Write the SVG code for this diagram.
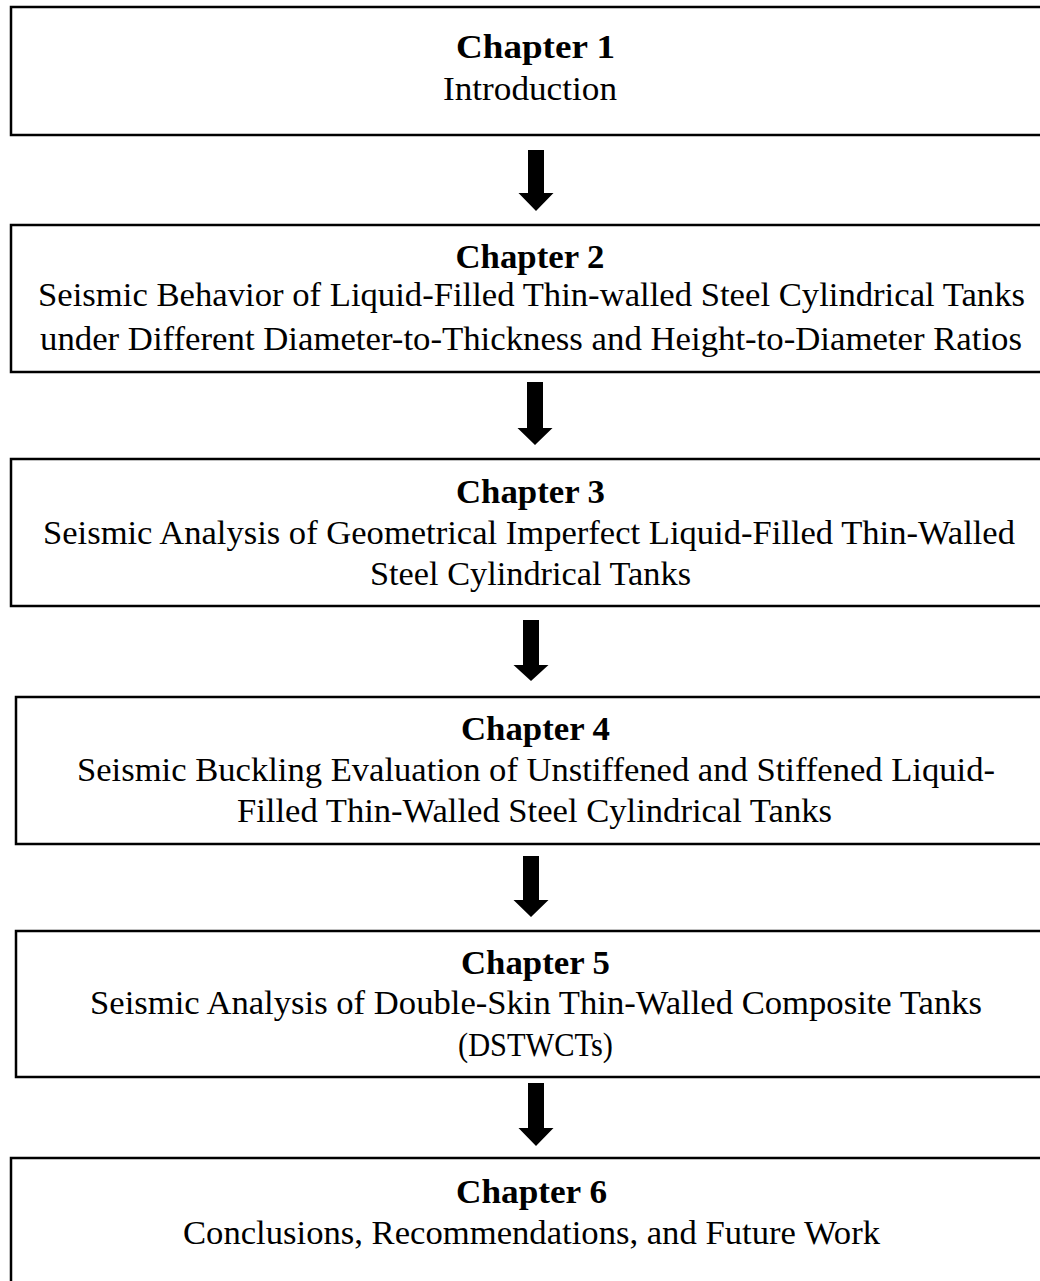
<svg xmlns="http://www.w3.org/2000/svg" width="1040" height="1281" viewBox="0 0 1040 1281">
<style>
.box{fill:#fff;stroke:#000;stroke-width:2.5}
.t{font-family:"Liberation Serif","Times New Roman",serif;font-size:34px;fill:#000;text-anchor:middle}
.b{font-weight:bold}
.arr{fill:#000}
</style>
<rect x="0" y="0" width="1040" height="1281" fill="#fff"/>
<g id="chapter1">
<rect class="box" x="11" y="7" width="1045" height="128"/>
<text class="t b" x="535.5" y="58" textLength="159" lengthAdjust="spacingAndGlyphs">Chapter 1</text>
<text class="t" x="530" y="100" textLength="174" lengthAdjust="spacingAndGlyphs">Introduction</text>
</g>
<g id="chapter2">
<rect class="box" x="11" y="225" width="1045" height="147"/>
<text class="t b" x="530" y="268" textLength="149" lengthAdjust="spacingAndGlyphs">Chapter 2</text>
<text class="t" x="531.5" y="306" textLength="987" lengthAdjust="spacingAndGlyphs">Seismic Behavior of Liquid-Filled Thin-walled Steel Cylindrical Tanks</text>
<text class="t" x="531" y="350" textLength="982" lengthAdjust="spacingAndGlyphs">under Different Diameter-to-Thickness and Height-to-Diameter Ratios</text>
</g>
<g id="chapter3">
<rect class="box" x="11" y="459" width="1045" height="147"/>
<text class="t b" x="530.5" y="503" textLength="149" lengthAdjust="spacingAndGlyphs">Chapter 3</text>
<text class="t" x="529" y="544" textLength="972" lengthAdjust="spacingAndGlyphs">Seismic Analysis of Geometrical Imperfect Liquid-Filled Thin-Walled</text>
<text class="t" x="530.5" y="585" textLength="321" lengthAdjust="spacingAndGlyphs">Steel Cylindrical Tanks</text>
</g>
<g id="chapter4">
<rect class="box" x="16" y="697" width="1040" height="147"/>
<text class="t b" x="535.5" y="740" textLength="149" lengthAdjust="spacingAndGlyphs">Chapter 4</text>
<text class="t" x="536" y="781" textLength="918" lengthAdjust="spacingAndGlyphs">Seismic Buckling Evaluation of Unstiffened and Stiffened Liquid-</text>
<text class="t" x="534.5" y="822" textLength="595" lengthAdjust="spacingAndGlyphs">Filled Thin-Walled Steel Cylindrical Tanks</text>
</g>
<g id="chapter5">
<rect class="box" x="16" y="931" width="1040" height="146"/>
<text class="t b" x="535.5" y="974" textLength="149" lengthAdjust="spacingAndGlyphs">Chapter 5</text>
<text class="t" x="536" y="1014" textLength="892" lengthAdjust="spacingAndGlyphs">Seismic Analysis of Double-Skin Thin-Walled Composite Tanks</text>
<text class="t" x="535.5" y="1056" textLength="155" lengthAdjust="spacingAndGlyphs">(DSTWCTs)</text>
</g>
<g id="chapter6">
<rect class="box" x="11" y="1158" width="1045" height="140"/>
<text class="t b" x="531.5" y="1203" textLength="151" lengthAdjust="spacingAndGlyphs">Chapter 6</text>
<text class="t" x="531.5" y="1244" textLength="697" lengthAdjust="spacingAndGlyphs">Conclusions, Recommendations, and Future Work</text>
</g>
<g id="connectors">
<polygon class="arr" points="528,150 544,150 544,193 553.5,193 536,211 518.5,193 528,193"/>
<polygon class="arr" points="527,382 543,382 543,428 552.5,428 535,445 517.5,428 527,428"/>
<polygon class="arr" points="523,620 539,620 539,665 548.5,665 531,681 513.5,665 523,665"/>
<polygon class="arr" points="523,856 539,856 539,900 548.5,900 531,917 513.5,900 523,900"/>
<polygon class="arr" points="528,1083 544,1083 544,1128 553.5,1128 536,1146 518.5,1128 528,1128"/>
</g>
</svg>
